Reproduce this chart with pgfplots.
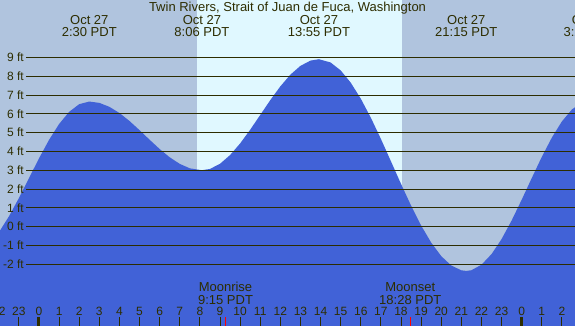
\documentclass[border=0pt]{standalone}
\usepackage{pgfplots}
\pgfplotsset{compat=1.18}
\usepackage{fontspec}
\setmainfont{Liberation Sans}
\definecolor{night}{RGB}{176,196,222}
\definecolor{day}{RGB}{224,248,255}
\definecolor{tide}{RGB}{65,98,215}
\definecolor{ink}{RGB}{45,45,0}
\begin{document}
\begin{tikzpicture}
\useasboundingbox (0,0) rectangle (575pt,326pt);
\clip (0,0) rectangle (575pt,326pt);
\begin{axis}[at={(0,0)}, anchor=south west, scale only axis,
  width=575pt, height=326pt,
  xmin=-1.939, xmax=26.653, ymin=-5.276, ymax=12.046,
  hide axis, no markers, clip=true]
% night / daylight background
\addplot[fill=night, draw=none] coordinates {(-3,-6) (28,-6) (28,13) (-3,13)};
\addplot[fill=day, draw=none] coordinates {(7.842,-6) (18.05,-6) (18.05,13) (7.842,13)};
% tide height (ft) vs hours from midnight Oct 27
\addplot[fill=tide, draw=none] coordinates {
(-2,-6) (-2,-0.307) (-1.5,0.538) (-1,1.520) (-0.5,2.575) (0,3.630) (0.5,4.613)
(1,5.457) (1.5,6.104) (2,6.511) (2.5,6.65) (3,6.579) (3.5,6.370) (4,6.041)
(4.5,5.617) (5,5.130) (5.5,4.621) (6,4.127) (6.5,3.687) (7,3.337) (7.5,3.102)
(8.1,3.0) (8.5,3.069) (9,3.342) (9.5,3.804) (10,4.422) (10.5,5.150) (11,5.937)
(11.5,6.723) (12,7.456) (12.5,8.079) (13,8.546) (13.5,8.826) (13.917,8.9)
(14.5,8.726) (15,8.306) (15.5,7.655) (16,6.805) (16.5,5.794) (17,4.667)
(17.5,3.476) (18,2.277) (18.5,1.123) (19,0.067) (19.5,-0.843) (20,-1.563)
(20.5,-2.062) (21,-2.318) (21.25,-2.35) (21.5,-2.313) (22,-2.022) (22.5,-1.458)
(23,-0.659) (23.5,0.324) (24,1.428) (24.5,2.579) (25,3.705) (25.5,4.731)
(26,5.592) (26.5,6.229) (27,6.606) (27,-6)};
% grid lines
\pgfplotsinvokeforeach{-2,...,9}{\addplot[ink, line width=0.9pt] coordinates {(-0.646,#1) (28,#1)};}
% hour ticks
\pgfplotsinvokeforeach{-1,...,26}{\addplot[ink, line width=0.9pt] coordinates {(#1,-5.5) (#1,-4.798)};}
\addplot[ink, line width=3pt] coordinates {(0,-5.5) (0,-4.798)};
\addplot[ink, line width=3pt] coordinates {(24,-5.5) (24,-4.798)};
% moonrise / moonset ticks
\addplot[red, line width=0.8pt] coordinates {(9.25,-5.5) (9.25,-4.798)};
\addplot[red, line width=0.8pt] coordinates {(18.467,-5.5) (18.467,-4.798)};
\end{axis}
% y labels
\foreach \v in {-2,...,9}{
  \node[ink, anchor=east, inner sep=0pt, font=\fontsize{12}{14}\selectfont]
    at (24pt,{(99.3+18.82*\v)*1pt}) {\v\ ft};
}
% hour labels
\foreach \h in {-2,...,27}{
  \pgfmathtruncatemacro\l{mod(\h+48,24)}
  \node[ink, anchor=base, inner sep=0pt, font=\fontsize{12}{14}\selectfont]
    at ({(39+20.11*\h)*1pt},10pt) {\l};
}
% title
\node[ink, anchor=base, inner sep=0pt, font=\fontsize{13}{15}\selectfont]
  at (287.5pt,314pt) {Twin Rivers, Strait of Juan de Fuca, Washington};
% tide event labels
\foreach \x/\d/\t in {89.3/Oct 27/2:30 PDT, 201.9/Oct 27/8:06 PDT, 318.9/Oct 27/13:55 PDT, 466.3/Oct 27/21:15 PDT, 591/Oct 28/3:27 PDT}{
  \node[ink, anchor=base, inner sep=0pt, font=\fontsize{13}{15}\selectfont] at (\x pt,301pt) {\d};
  \node[ink, anchor=base, inner sep=0pt, font=\fontsize{13}{15}\selectfont] at (\x pt,289.5pt) {\t};
}
% moon labels
\foreach \x/\a/\t in {225.5/Moonrise/9:15 PDT, 410.3/Moonset/18:28 PDT}{
  \node[ink, anchor=base, inner sep=0pt, font=\fontsize{13}{15}\selectfont] at (\x pt,34.3pt) {\a};
  \node[ink, anchor=base, inner sep=0pt, font=\fontsize{13}{15}\selectfont] at (\x pt,21.9pt) {\t};
}
\end{tikzpicture}
\end{document}
